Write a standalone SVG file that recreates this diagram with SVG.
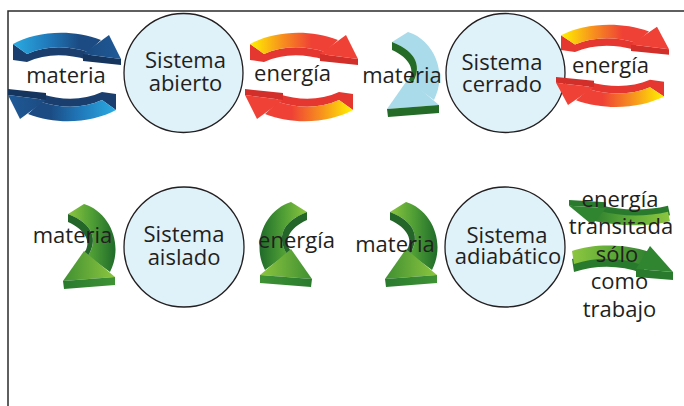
<svg xmlns="http://www.w3.org/2000/svg" width="684" height="406" viewBox="0 0 684 406">
<defs>
<linearGradient id="gBlueTop" x1="0" y1="0" x2="1" y2="0"><stop offset="0" stop-color="#2aabe2"/><stop offset="0.45" stop-color="#1f73b5"/><stop offset="0.75" stop-color="#1b4b82"/><stop offset="1" stop-color="#1b4b82"/></linearGradient>
<linearGradient id="gBlueHead" x1="0" y1="0" x2="1" y2="0"><stop offset="0" stop-color="#1b4a80"/><stop offset="1" stop-color="#1f5a98"/></linearGradient>
<linearGradient id="gRedTop" x1="0" y1="0" x2="1" y2="0"><stop offset="0" stop-color="#fff200"/><stop offset="0.35" stop-color="#f7941d"/><stop offset="0.7" stop-color="#ef4136"/><stop offset="1" stop-color="#ef4136"/></linearGradient>
<linearGradient id="gGreenBand" x1="0" y1="0" x2="1" y2="0"><stop offset="0" stop-color="#8dc63f"/><stop offset="0.5" stop-color="#4f9e35"/><stop offset="1" stop-color="#1f6b2a"/></linearGradient>
<linearGradient id="gGreenHead" x1="0" y1="0" x2="1" y2="0"><stop offset="0" stop-color="#3f8f32"/><stop offset="1" stop-color="#8dc63f"/></linearGradient>
<linearGradient id="gGreenSlab" x1="0" y1="0" x2="1" y2="0"><stop offset="0" stop-color="#2a7a2e"/><stop offset="1" stop-color="#3f9234"/></linearGradient>
<linearGradient id="gGreenFlat" x1="0" y1="0" x2="1" y2="0"><stop offset="0" stop-color="#8dc63f"/><stop offset="0.55" stop-color="#5aa838"/><stop offset="1" stop-color="#2d7d2f"/></linearGradient>
<style>
.frame{fill:none;stroke:#2b2b2b;stroke-width:1.5}
.sys{fill:#dff1f9;stroke:#231f20;stroke-width:1.3}
.t{font-family:"Open Sans","Noto Sans",sans-serif;font-size:22px;fill:#231f20;text-anchor:middle}
.blue .top{fill:url(#gBlueTop)}
.blue .face{fill:#1a3f6e}
.blue .head{fill:url(#gBlueHead)}
.blue .hface{fill:#15355f}
.red .top{fill:url(#gRedTop)}
.red .face{fill:#e5362f}
.red .head{fill:#ef4136}
.red .hface{fill:#d22f2a}
.green .band{fill:url(#gGreenBand)}
.green .strip{fill:#24662a}
.green .head{fill:url(#gGreenHead)}
.green .slab{fill:url(#gGreenSlab)}
.cb .band{fill:#a9dbeb}
.cb .strip{fill:#236b27}
.cb .head{fill:#a9dbeb}
.cb .slab{fill:#236b27}
.flat .slab{fill:#2a7a2e}
.flat .top{fill:url(#gGreenFlat)}
.flat .head{fill:#2f8530}
</style>
</defs>
<rect width="684" height="406" fill="#ffffff"/>
<path class="frame" d="M684,11 H8 V406"/>

<g id="node-abierto">
<circle class="sys" cx="183.5" cy="73" r="59.5"/>
<text class="t" x="185.5" y="68">Sistema</text>
<text class="t" x="185.5" y="91">abierto</text>
</g>
<g id="node-cerrado">
<circle class="sys" cx="505.5" cy="73" r="59.5"/>
<text class="t" x="502" y="70">Sistema</text>
<text class="t" x="502" y="92">cerrado</text>
</g>
<g id="node-aislado">
<circle class="sys" cx="184" cy="247" r="60"/>
<text class="t" x="184" y="242">Sistema</text>
<text class="t" x="184" y="265">aislado</text>
</g>
<g id="node-adiabatico">
<circle class="sys" cx="505" cy="247" r="60"/>
<text class="t" x="507" y="243">Sistema</text>
<text class="t" x="508" y="264">adiabático</text>
</g>

<g id="connectors">
<!-- blue pair: materia, abierto -->
<g class="blue">
<g>
<path class="face" d="M13,44 L27,54 C45,46 65,45 88,52 L88,60 C65,53 45,54 27,62 L13,60 Z"/>
<path class="top" d="M13,44 C35,32 70,28 101,40 L88,52 C65,45 45,46 27,54 Z"/>
<path class="hface" d="M83,54 L121,59 L121,65 L83,61 Z"/>
<path class="head" d="M83,54 L109,35 L121,59 Z"/>
</g>
<g transform="rotate(180,64.5,77)">
<path class="face" d="M13,44 L27,54 C45,46 65,45 88,52 L88,60 C65,53 45,54 27,62 L13,60 Z"/>
<path class="top" d="M13,44 C35,32 70,28 101,40 L88,52 C65,45 45,46 27,54 Z"/>
<path class="hface" d="M83,54 L121,59 L121,65 L83,61 Z"/>
<path class="head" d="M83,54 L109,35 L121,59 Z"/>
</g>
</g>
<!-- red pair: energia, abierto -->
<g class="red" transform="translate(237,0)">
<g>
<path class="face" d="M13,44 L27,54 C45,46 65,45 88,52 L88,60 C65,53 45,54 27,62 L13,60 Z"/>
<path class="top" d="M13,44 C35,32 70,28 101,40 L88,52 C65,45 45,46 27,54 Z"/>
<path class="hface" d="M83,54 L121,59 L121,65 L83,61 Z"/>
<path class="head" d="M83,54 L109,35 L121,59 Z"/>
</g>
<g transform="rotate(180,64.5,77)">
<path class="face" d="M13,44 L27,54 C45,46 65,45 88,52 L88,60 C65,53 45,54 27,62 L13,60 Z"/>
<path class="top" d="M13,44 C35,32 70,28 101,40 L88,52 C65,45 45,46 27,54 Z"/>
<path class="hface" d="M83,54 L121,59 L121,65 L83,61 Z"/>
<path class="head" d="M83,54 L109,35 L121,59 Z"/>
</g>
</g>
<!-- red pair: energia, cerrado -->
<g class="red" transform="translate(548,-5.7) scale(1,0.93)">
<g>
<path class="face" d="M13,44 L27,54 C45,46 65,45 88,52 L88,60 C65,53 45,54 27,62 L13,60 Z"/>
<path class="top" d="M13,44 C35,32 70,28 101,40 L88,52 C65,45 45,46 27,54 Z"/>
<path class="hface" d="M83,54 L121,59 L121,65 L83,61 Z"/>
<path class="head" d="M83,54 L109,35 L121,59 Z"/>
</g>
<g transform="rotate(180,64.5,77)">
<path class="face" d="M13,44 L27,54 C45,46 65,45 88,52 L88,60 C65,53 45,54 27,62 L13,60 Z"/>
<path class="top" d="M13,44 C35,32 70,28 101,40 L88,52 C65,45 45,46 27,54 Z"/>
<path class="hface" d="M83,54 L121,59 L121,65 L83,61 Z"/>
<path class="head" d="M83,54 L109,35 L121,59 Z"/>
</g>
</g>
<!-- cerrado materia (blocked, light blue) -->
<g class="cb" transform="translate(324,-172)">
<path class="band" d="M68,214 L84,204 C110,212 124,245 110,272 L88,256 C98,240 94,224 68,214 Z"/>
<path class="strip" d="M88,256 C98,240 94,224 68,214 L68,222 C86,230 92,243 84,253 Z"/>
<path class="head" d="M84,251 L115,277 L63,281 Z"/>
<path class="slab" d="M63,281 L115,277 L115,285 L64,289 Z"/>
</g>
<!-- aislado materia -->
<g class="green">
<path class="band" d="M68,214 L84,204 C110,212 124,245 110,272 L88,256 C98,240 94,224 68,214 Z"/>
<path class="strip" d="M88,256 C98,240 94,224 68,214 L68,222 C86,230 92,243 84,253 Z"/>
<path class="head" d="M84,251 L115,277 L63,281 Z"/>
<path class="slab" d="M63,281 L115,277 L115,285 L64,289 Z"/>
</g>
<!-- aislado energia (mirrored) -->
<g class="green" transform="matrix(-1,0,0,1,375,-2)">
<path class="band" d="M68,214 L84,204 C110,212 124,245 110,272 L88,256 C98,240 94,224 68,214 Z"/>
<path class="strip" d="M88,256 C98,240 94,224 68,214 L68,222 C86,230 92,243 84,253 Z"/>
<path class="head" d="M84,251 L115,277 L63,281 Z"/>
<path class="slab" d="M63,281 L115,277 L115,285 L64,289 Z"/>
</g>
<!-- adiabatico materia -->
<g class="green" transform="translate(322,-2)">
<path class="band" d="M68,214 L84,204 C110,212 124,245 110,272 L88,256 C98,240 94,224 68,214 Z"/>
<path class="strip" d="M88,256 C98,240 94,224 68,214 L68,222 C86,230 92,243 84,253 Z"/>
<path class="head" d="M84,251 L115,277 L63,281 Z"/>
<path class="slab" d="M63,281 L115,277 L115,285 L64,289 Z"/>
</g>
<!-- adiabatico energia pair -->
<g class="flat">
<path class="slab" d="M572,259 C592,252 622,251 650,260 L642,273 C620,265 596,265 574,272 Z"/>
<path class="top" d="M572,251 C592,244 622,243 650,252 L642,265 C620,257 596,257 574,264 Z"/>
<path class="slab" d="M636,269 L673,272 L673,280 L636,277 Z"/>
<path class="head" d="M650,246 L673,272 L636,269 Z"/>
</g>
<g class="flat" transform="matrix(-1,0,0,-0.73,1242,404.4)">
<path class="slab" d="M572,259 C592,252 622,251 650,260 L642,273 C620,265 596,265 574,272 Z"/>
<path class="top" d="M572,251 C592,244 622,243 650,252 L642,265 C620,257 596,257 574,264 Z"/>
<path class="slab" d="M636,269 L673,272 L673,280 L636,277 Z"/>
<path class="head" d="M650,246 L673,272 L636,269 Z"/>
</g>
</g>

<g id="labels">
<text class="t" x="66" y="83">materia</text>
<text class="t" x="292.5" y="81">energía</text>
<text class="t" x="402" y="83">materia</text>
<text class="t" x="610.5" y="73">energía</text>
<text class="t" x="72.5" y="243">materia</text>
<text class="t" x="296.5" y="248">energía</text>
<text class="t" x="395" y="252">materia</text>
<text class="t" x="620" y="207">energía</text>
<text class="t" x="621" y="234">transitada</text>
<text class="t" x="617" y="262">sólo</text>
<text class="t" x="619.5" y="289">como</text>
<text class="t" x="619.5" y="317">trabajo</text>
</g>
</svg>
